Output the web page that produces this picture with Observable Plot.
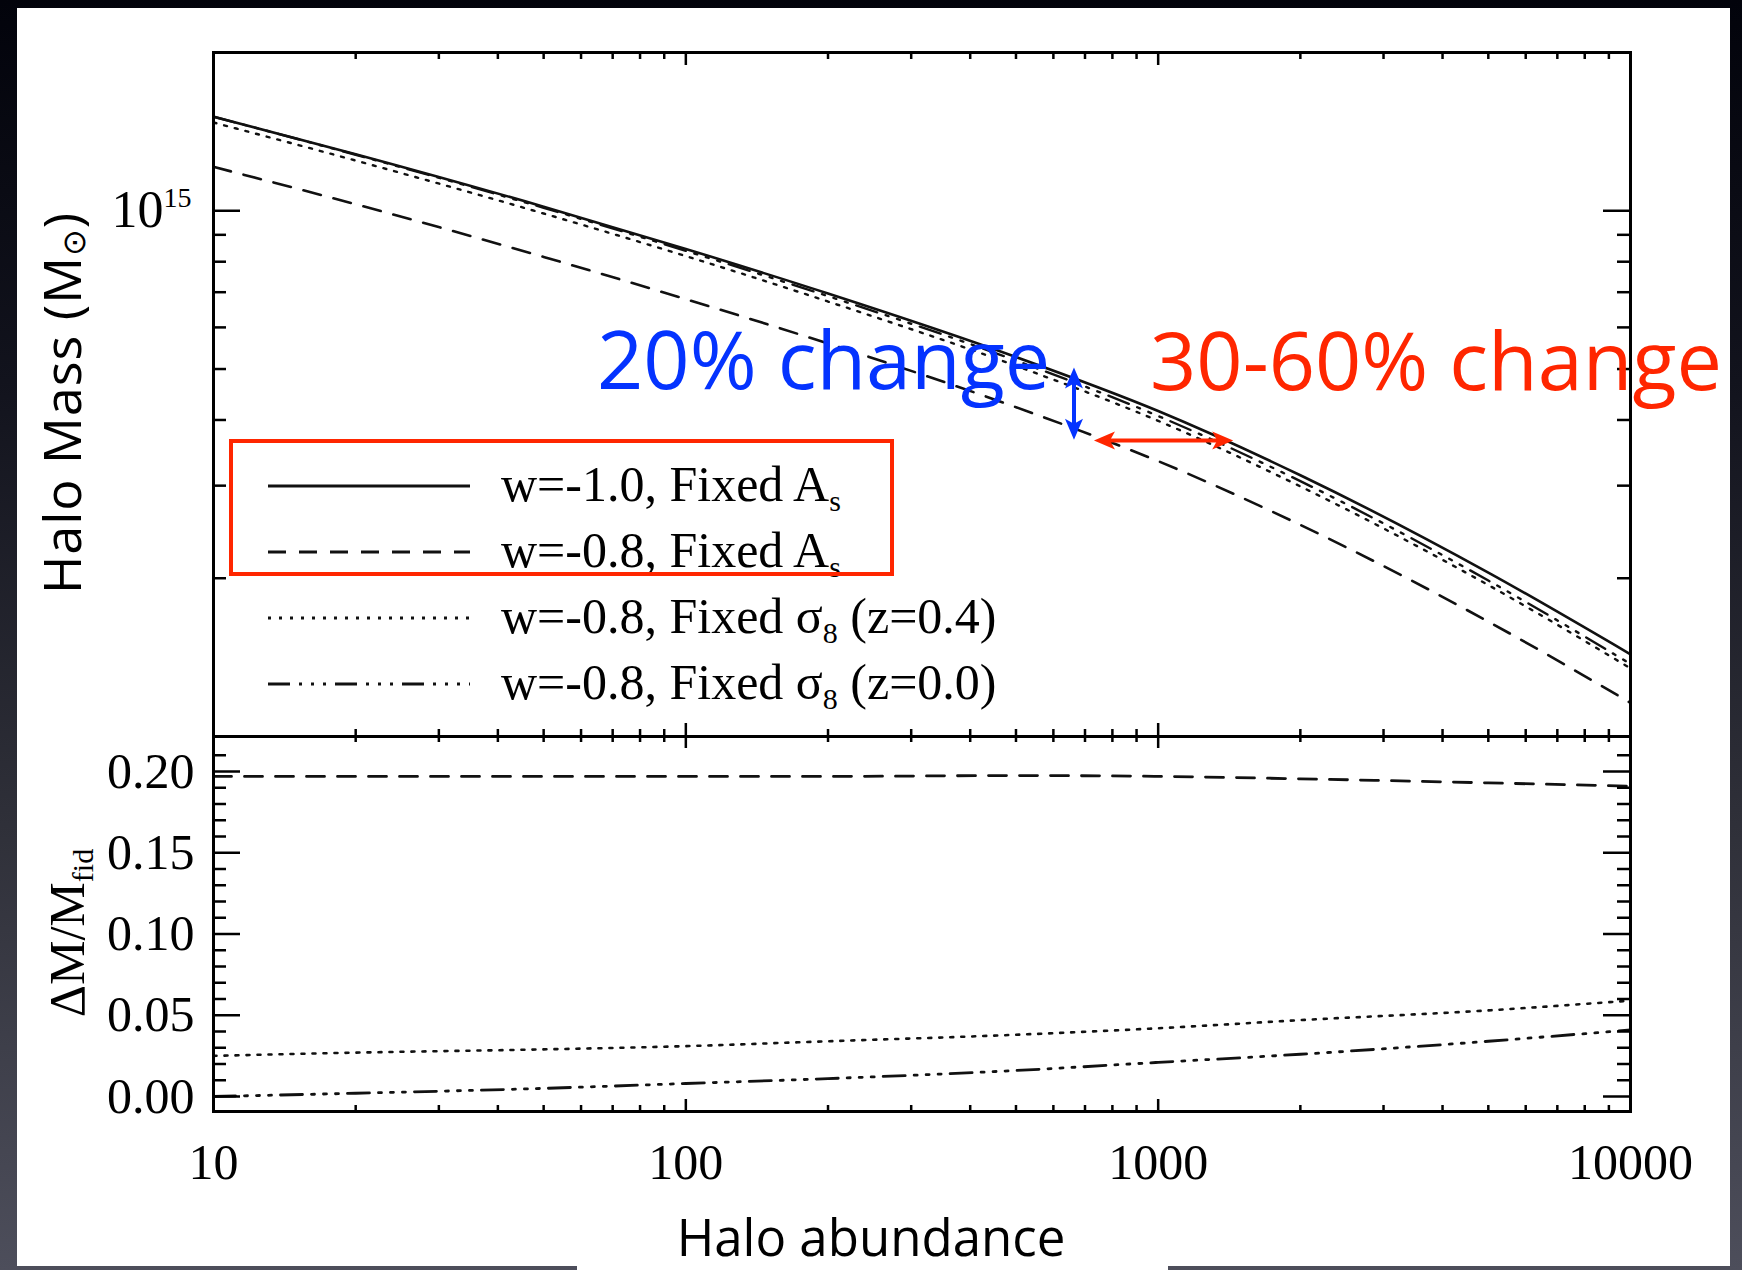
<!DOCTYPE html>
<html>
<head>
<meta charset="utf-8">
<script src="https://cdn.jsdelivr.net/npm/d3@7"></script>
<script src="https://cdn.jsdelivr.net/npm/@observablehq/plot@0.6"></script>
<style>
  html, body { margin: 0; padding: 0; }
  body {
    width: 1742px; height: 1270px; overflow: hidden; position: relative;
    background: linear-gradient(to bottom, #02030b 0%, #12131d 30%, #2f3039 65%, #4d4e5b 100%);
  }
  #sheet { position: absolute; left: 17px; top: 8px; width: 1713px; height: 1258px; background: #fff; }
  #labelpad { position: absolute; left: 577px; top: 1200px; width: 591px; height: 70px; background: #fff; }
  .layer { position: absolute; left: 0; top: 0; }
</style>
</head>
<body>
<div id="sheet"></div>
<div id="labelpad"></div>
<div id="upper" class="layer"></div>
<div id="lower" class="layer"></div>
<svg id="notes" class="layer" width="1742" height="1270"></svg>
<script>
// ---- Data -----------------------------------------------------------------
// Halo abundance (shared x values for both panels)
const abundance = [10, 20, 50, 100, 200, 500, 1000, 2000, 5000, 10000];

// Halo mass in solar masses for each model
const massW10FixedAs   = [1.51e15, 1.281e15, 1.018e15, 8.46e14, 6.96e14, 5.27e14, 4.16e14, 3.14e14, 2.05e14, 1.433e14];
const massW08FixedAs   = [1.212e15, 1.029e15, 8.17e14, 6.79e14, 5.59e14, 4.23e14, 3.34e14, 2.526e14, 1.654e14, 1.159e14];
const massW08Sigma8z04 = [1.472e15, 1.246e15, 9.88e14, 8.20e14, 6.72e14, 5.07e14, 3.985e14, 2.99e14, 1.941e14, 1.348e14];
const massW08Sigma8z00 = [1.51e15, 1.278e15, 1.013e15, 8.39e14, 6.88e14, 5.19e14, 4.07e14, 3.06e14, 1.98e14, 1.374e14];

// Fractional mass difference relative to the w=-1.0 model
const dmW08FixedAs   = [0.197, 0.197, 0.197, 0.197, 0.197, 0.1975, 0.197, 0.1955, 0.193, 0.191];
const dmW08Sigma8z04 = [0.025, 0.027, 0.029, 0.031, 0.034, 0.038, 0.042, 0.047, 0.053, 0.059];
const dmW08Sigma8z00 = [0.000, 0.002, 0.005, 0.008, 0.011, 0.016, 0.021, 0.026, 0.034, 0.041];

// Tick values and labels
const xMajorTicks = [10, 100, 1000, 10000];
const xMinorTicks = [20, 30, 40, 50, 60, 70, 80, 90, 200, 300, 400, 500, 600, 700, 800, 900,
                     2000, 3000, 4000, 5000, 6000, 7000, 8000, 9000];
const massMajorTicks = [1e15];
const massMinorTicks = [2e14, 3e14, 4e14, 5e14, 6e14, 7e14, 8e14, 9e14, 2e15];
const dmMajorTicks = [0, 0.05, 0.10, 0.15, 0.20];
const dmMinorTicks = [0.01, 0.02, 0.03, 0.04, 0.06, 0.07, 0.08, 0.09, 0.11, 0.12, 0.13, 0.14,
                      0.16, 0.17, 0.18, 0.19, 0.21];
const xTickLabels = ["10", "100", "1000", "10000"];
const dmTickLabels = ["0.00", "0.05", "0.10", "0.15", "0.20"];

// Legend entries
const legendLabels = [
  {main: "w=-1.0, Fixed A", sub: "s", tail: ""},
  {main: "w=-0.8, Fixed A", sub: "s", tail: ""},
  {main: "w=-0.8, Fixed \u03C3", sub: "8", tail: " (z=0.4)"},
  {main: "w=-0.8, Fixed \u03C3", sub: "8", tail: " (z=0.0)"}
];

// Annotation anchors (data coordinates)
const verticalArrow = {x: 665, y1: 5.02e14, y2: 3.66e14};
const horizontalArrow = {y: 3.65e14, x1: 733, x2: 1445};

// ---- Layout ---------------------------------------------------------------
const W = 1742, H = 1270;
const L = 213, R = 1630, T = 52, MID = 736, B = 1111;
const serif = "'Liberation Serif', 'Times New Roman', serif";
const sans = "'Open Sans', 'Lato', sans-serif";
const dashes = {solid: null, dashed: "18,13", dotted: "3,8", dashdot: "22,9,3,9,3,9,3,9"};
const BLUE = "#0433ff", RED = "#ff2600";

const rows = (ys) => abundance.map((x, i) => ({x, y: ys[i]}));

function frameTicks(major, minor, axis, frameSpan, majorLen, minorLen, sw) {
  const marks = [];
  if (axis === "y") {
    for (const [vals, len] of [[major, majorLen], [minor, minorLen]]) {
      marks.push(Plot.tickY(vals, {y: d => d, insetRight: frameSpan - len, stroke: "#000", strokeWidth: sw}));
      marks.push(Plot.tickY(vals, {y: d => d, insetLeft: frameSpan - len, stroke: "#000", strokeWidth: sw}));
    }
  } else {
    for (const [vals, len] of [[major, majorLen], [minor, minorLen]]) {
      marks.push(Plot.tickX(vals, {x: d => d, insetBottom: frameSpan - len, stroke: "#000", strokeWidth: sw}));
      marks.push(Plot.tickX(vals, {x: d => d, insetTop: frameSpan - len, stroke: "#000", strokeWidth: sw}));
    }
  }
  return marks;
}

function series(ys, dash, sw) {
  return Plot.line(rows(ys), {x: "x", y: "y", stroke: "#111", strokeWidth: sw,
    strokeDasharray: dash, curve: "monotone-x"});
}

// ---- Upper panel: halo mass ----------------------------------------------
const upper = Plot.plot({
  width: W, height: H,
  marginLeft: L, marginRight: W - R, marginTop: T, marginBottom: H - MID,
  x: {type: "log", domain: [10, 10000], axis: null},
  y: {type: "log", domain: [1e14, 2e15], axis: null},
  style: {background: "transparent", overflow: "visible", fontFamily: serif, color: "#000"},
  marks: [
    series(massW08FixedAs, dashes.dashed, 2.6),
    series(massW08Sigma8z04, dashes.dotted, 2.4),
    series(massW08Sigma8z00, dashes.dashdot, 2.4),
    series(massW10FixedAs, dashes.solid, 2.6),
    ...frameTicks(massMajorTicks, massMinorTicks, "y", R - L, 27, 13, 2.5),
    ...frameTicks(xMajorTicks, xMinorTicks, "x", MID - T, 13, 7, 2.5),
    Plot.frame({stroke: "#000", strokeWidth: 3}),
    Plot.text(massMajorTicks, {y: d => d, frameAnchor: "left", textAnchor: "end", lineAnchor: "middle",
      dx: -50, text: () => "10", fontSize: 52, fill: "#000"}),
    Plot.text(massMajorTicks, {y: d => d, frameAnchor: "left", textAnchor: "start", lineAnchor: "middle",
      dx: -50, dy: -13, text: () => "15", fontSize: 28, fill: "#000"})
  ]
});
document.getElementById("upper").append(upper);

// ---- Lower panel: fractional difference ----------------------------------
const lower = Plot.plot({
  width: W, height: H,
  marginLeft: L, marginRight: W - R, marginTop: MID, marginBottom: H - B,
  x: {type: "log", domain: [10, 10000], axis: null},
  y: {type: "linear", domain: [-0.00923, 0.22154], axis: null},
  style: {background: "transparent", overflow: "visible", fontFamily: serif, color: "#000"},
  marks: [
    series(dmW08FixedAs, dashes.dashed, 2.8),
    series(dmW08Sigma8z04, dashes.dotted, 2.6),
    series(dmW08Sigma8z00, dashes.dashdot, 2.8),
    ...frameTicks(dmMajorTicks, dmMinorTicks, "y", R - L, 27, 13, 2.5),
    ...frameTicks(xMajorTicks, xMinorTicks, "x", B - MID, 12, 6, 2.5),
    Plot.frame({stroke: "#000", strokeWidth: 3}),
    Plot.text(dmMajorTicks, {y: d => d, frameAnchor: "left", textAnchor: "end", lineAnchor: "middle",
      dx: -19, text: (d, i) => dmTickLabels[i], fontSize: 50, fill: "#000"}),
    Plot.text(xMajorTicks, {x: d => d, frameAnchor: "bottom", textAnchor: "middle", lineAnchor: "middle",
      dy: 51, text: (d, i) => xTickLabels[i], fontSize: 50, fill: "#000"})
  ]
});
document.getElementById("lower").append(lower);

// ---- Legend, axis titles and annotations ---------------------------------
const sx = upper.scale("x"), sy = upper.scale("y");
const notes = d3.select("#notes");

// axis titles
notes.append("text")
  .attr("transform", "translate(81,403) rotate(-90)")
  .attr("text-anchor", "middle").attr("font-family", sans).attr("font-size", 52).attr("fill", "#000")
  .attr("letter-spacing", 1)
  .call(t => {
    t.append("tspan").text("Halo Mass (M");
    t.append("tspan").attr("font-size", 32).attr("dy", 4).attr("font-family", "'DejaVu Sans', sans-serif").text("\u2299");
    t.append("tspan").attr("dy", -4).text(")");
  });

notes.append("text")
  .attr("transform", "translate(84,933) rotate(-90)")
  .attr("text-anchor", "middle").attr("font-family", serif).attr("font-size", 50).attr("fill", "#000")
  .call(t => {
    t.append("tspan").text("\u0394M/M");
    t.append("tspan").attr("font-size", 30).attr("dy", 9).text("fid");
  });

notes.append("text")
  .attr("x", 871).attr("y", 1256).attr("text-anchor", "middle")
  .attr("font-family", sans).attr("font-size", 51).attr("fill", "#000")
  .text("Halo abundance");

// legend
const legendX1 = 268, legendX2 = 470, legendTextX = 501, legendRowY = [486, 552, 618, 684];
const legendDash = [dashes.solid, dashes.dashed, dashes.dotted, dashes.dashdot];
legendLabels.forEach((lab, i) => {
  const y = legendRowY[i];
  notes.append("line").attr("x1", legendX1).attr("x2", legendX2).attr("y1", y).attr("y2", y)
    .attr("stroke", "#111").attr("stroke-width", 3)
    .attr("stroke-dasharray", legendDash[i]);
  const t = notes.append("text").attr("x", legendTextX).attr("y", y + 15)
    .attr("font-family", serif).attr("font-size", 50).attr("fill", "#000");
  t.append("tspan").text(lab.main);
  t.append("tspan").attr("font-size", 30).attr("dy", 10).text(lab.sub);
  if (lab.tail) t.append("tspan").attr("dy", -10).text(lab.tail);
});
notes.append("rect").attr("x", 231).attr("y", 441).attr("width", 661).attr("height", 133)
  .attr("fill", "none").attr("stroke", RED).attr("stroke-width", 4);

// annotations
notes.append("text").attr("x", 597).attr("y", 389)
  .attr("font-family", sans).attr("font-size", 81).attr("fill", BLUE).text("20% change");
notes.append("text").attr("x", 1150).attr("y", 390)
  .attr("font-family", sans).attr("font-size", 81).attr("fill", RED).text("30-60% change");

function doubleArrow(x1, y1, x2, y2, color) {
  const len = Math.hypot(x2 - x1, y2 - y1), ux = (x2 - x1) / len, uy = (y2 - y1) / len;
  const hl = 21, hw = 9;
  notes.append("line")
    .attr("x1", x1 + ux * hl * 0.7).attr("y1", y1 + uy * hl * 0.7)
    .attr("x2", x2 - ux * hl * 0.7).attr("y2", y2 - uy * hl * 0.7)
    .attr("stroke", color).attr("stroke-width", 4);
  const head = (px, py, dx, dy) => {
    const bx = px - dx * hl, by = py - dy * hl;
    notes.append("path")
      .attr("d", `M${px},${py}L${bx - dy * hw},${by + dx * hw}L${bx + dx * 5},${by + dy * 5}L${bx + dy * hw},${by - dx * hw}Z`)
      .attr("fill", color);
  };
  head(x2, y2, ux, uy);
  head(x1, y1, -ux, -uy);
}
doubleArrow(sx.apply(verticalArrow.x), sy.apply(verticalArrow.y1),
            sx.apply(verticalArrow.x), sy.apply(verticalArrow.y2), BLUE);
doubleArrow(sx.apply(horizontalArrow.x1), sy.apply(horizontalArrow.y),
            sx.apply(horizontalArrow.x2), sy.apply(horizontalArrow.y), RED);
</script>
</body>
</html>
